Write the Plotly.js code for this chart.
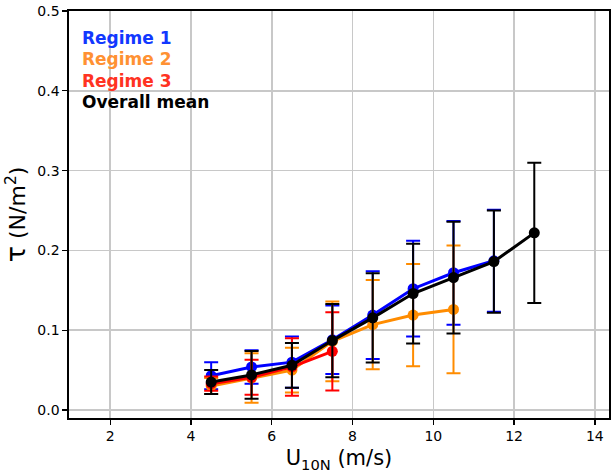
<!DOCTYPE html>
<html>
<head>
<meta charset="utf-8">
<script src="https://cdn.plot.ly/plotly-3.0.1.min.js"></script>
<style>html,body{margin:0;padding:0;background:#fff;}#chart{width:611px;height:475px;}</style>
</head>
<body>
<div id="chart"></div>
<script>
// Wind speed bins (m/s)
const windBins = [4.5, 5.5, 6.5, 7.5, 8.5, 9.5, 10.5, 11.5, 12.5];

// Regime 1 (blue)
const r1X = [4.5, 5.5, 6.5, 7.5, 8.5, 9.5, 10.5, 11.5];
const r1Mean = [0.043, 0.054, 0.060, 0.088, 0.119, 0.152, 0.172, 0.187];
const r1Std = [0.017, 0.021, 0.032, 0.043, 0.055, 0.060, 0.065, 0.064];

// Regime 2 (orange)
const r2X = [4.5, 5.5, 6.5, 7.5, 8.5, 9.5, 10.5];
const r2Mean = [0.030, 0.040, 0.050, 0.086, 0.107, 0.119, 0.126];
const r2Std = [0.010, 0.031, 0.028, 0.050, 0.056, 0.064, 0.080];

// Regime 3 (red)
const r3X = [4.5, 5.5, 6.5, 7.5];
const r3Mean = [0.033, 0.041, 0.054, 0.0735];
const r3Std = [0.009, 0.022, 0.036, 0.049];

// Overall mean (black)
const allMean = [0.035, 0.044, 0.056, 0.087, 0.1155, 0.146, 0.166, 0.186, 0.222];
const allStd = [0.015, 0.030, 0.028, 0.046, 0.056, 0.0625, 0.070, 0.064, 0.088];

// Tick values
const xTicks = [2, 4, 6, 8, 10, 12, 14];
const yTicks = [0.0, 0.1, 0.2, 0.3, 0.4, 0.5];

const legendLabels = ['Regime 1', 'Regime 2', 'Regime 3', 'Overall mean'];
const lineColors = ['#0000ff', '#ff8c00', '#ff0000', '#000000'];
const textColors = ['#1138ff', '#ff9133', '#ff3322', '#000000'];

function series(x, y, err, color) {
  return {
    x: x, y: y, type: 'scatter', mode: 'lines+markers',
    line: {color: color, width: 3},
    marker: {color: color, size: 11},
    error_y: {type: 'data', array: err, visible: true, color: color, thickness: 2, width: 7},
    showlegend: false, hoverinfo: 'x+y'
  };
}

const data = [
  series(r1X, r1Mean, r1Std, lineColors[0]),
  series(r2X, r2Mean, r2Std, lineColors[1]),
  series(r3X, r3Mean, r3Std, lineColors[2]),
  series(windBins, allMean, allStd, lineColors[3])
];

const legendY = [0.934, 0.882, 0.829, 0.776];
const annotations = legendLabels.map((t, i) => ({
  text: '<b>' + t + '</b>', xref: 'paper', yref: 'paper', x: 0.02, y: legendY[i],
  xanchor: 'left', yanchor: 'middle', showarrow: false,
  font: {family: 'DejaVu Sans', size: 17, color: textColors[i]}
}));

const axisCommon = {
  showgrid: true, gridcolor: '#c8c8c8', gridwidth: 1.5,
  showline: true, linecolor: '#000000', linewidth: 1.6, mirror: true,
  ticks: 'outside', ticklen: 5, tickwidth: 1.3, tickcolor: '#000000',
  zeroline: false,
  tickfont: {family: 'DejaVu Sans', size: 14, color: '#000000'}
};

const layout = {
  width: 611, height: 475,
  margin: {l: 69, r: 2, t: 11, b: 57},
  paper_bgcolor: '#ffffff', plot_bgcolor: '#ffffff',
  font: {family: 'DejaVu Sans', color: '#000000'},
  xaxis: Object.assign({}, axisCommon, {
    range: [0.98, 14.35], tickvals: xTicks, ticktext: xTicks.map(String),
    title: {text: 'U<sub>10N</sub> (m/s)' + '\u00a0'.repeat(9), font: {family: 'DejaVu Sans', size: 21, color: '#000'}, standoff: 7}
  }),
  yaxis: Object.assign({}, axisCommon, {
    range: [-0.01, 0.5], tickvals: yTicks, ticktext: yTicks.map(v => v.toFixed(1)),
    title: {text: '<span style="font-size:27px">τ</span> (N/m<sup>2</sup>)', font: {family: 'DejaVu Sans', size: 22, color: '#000'}, standoff: 8}
  }),
  annotations: annotations
};

Plotly.newPlot('chart', data, layout, {displayModeBar: false, staticPlot: true});
</script>
</body>
</html>
